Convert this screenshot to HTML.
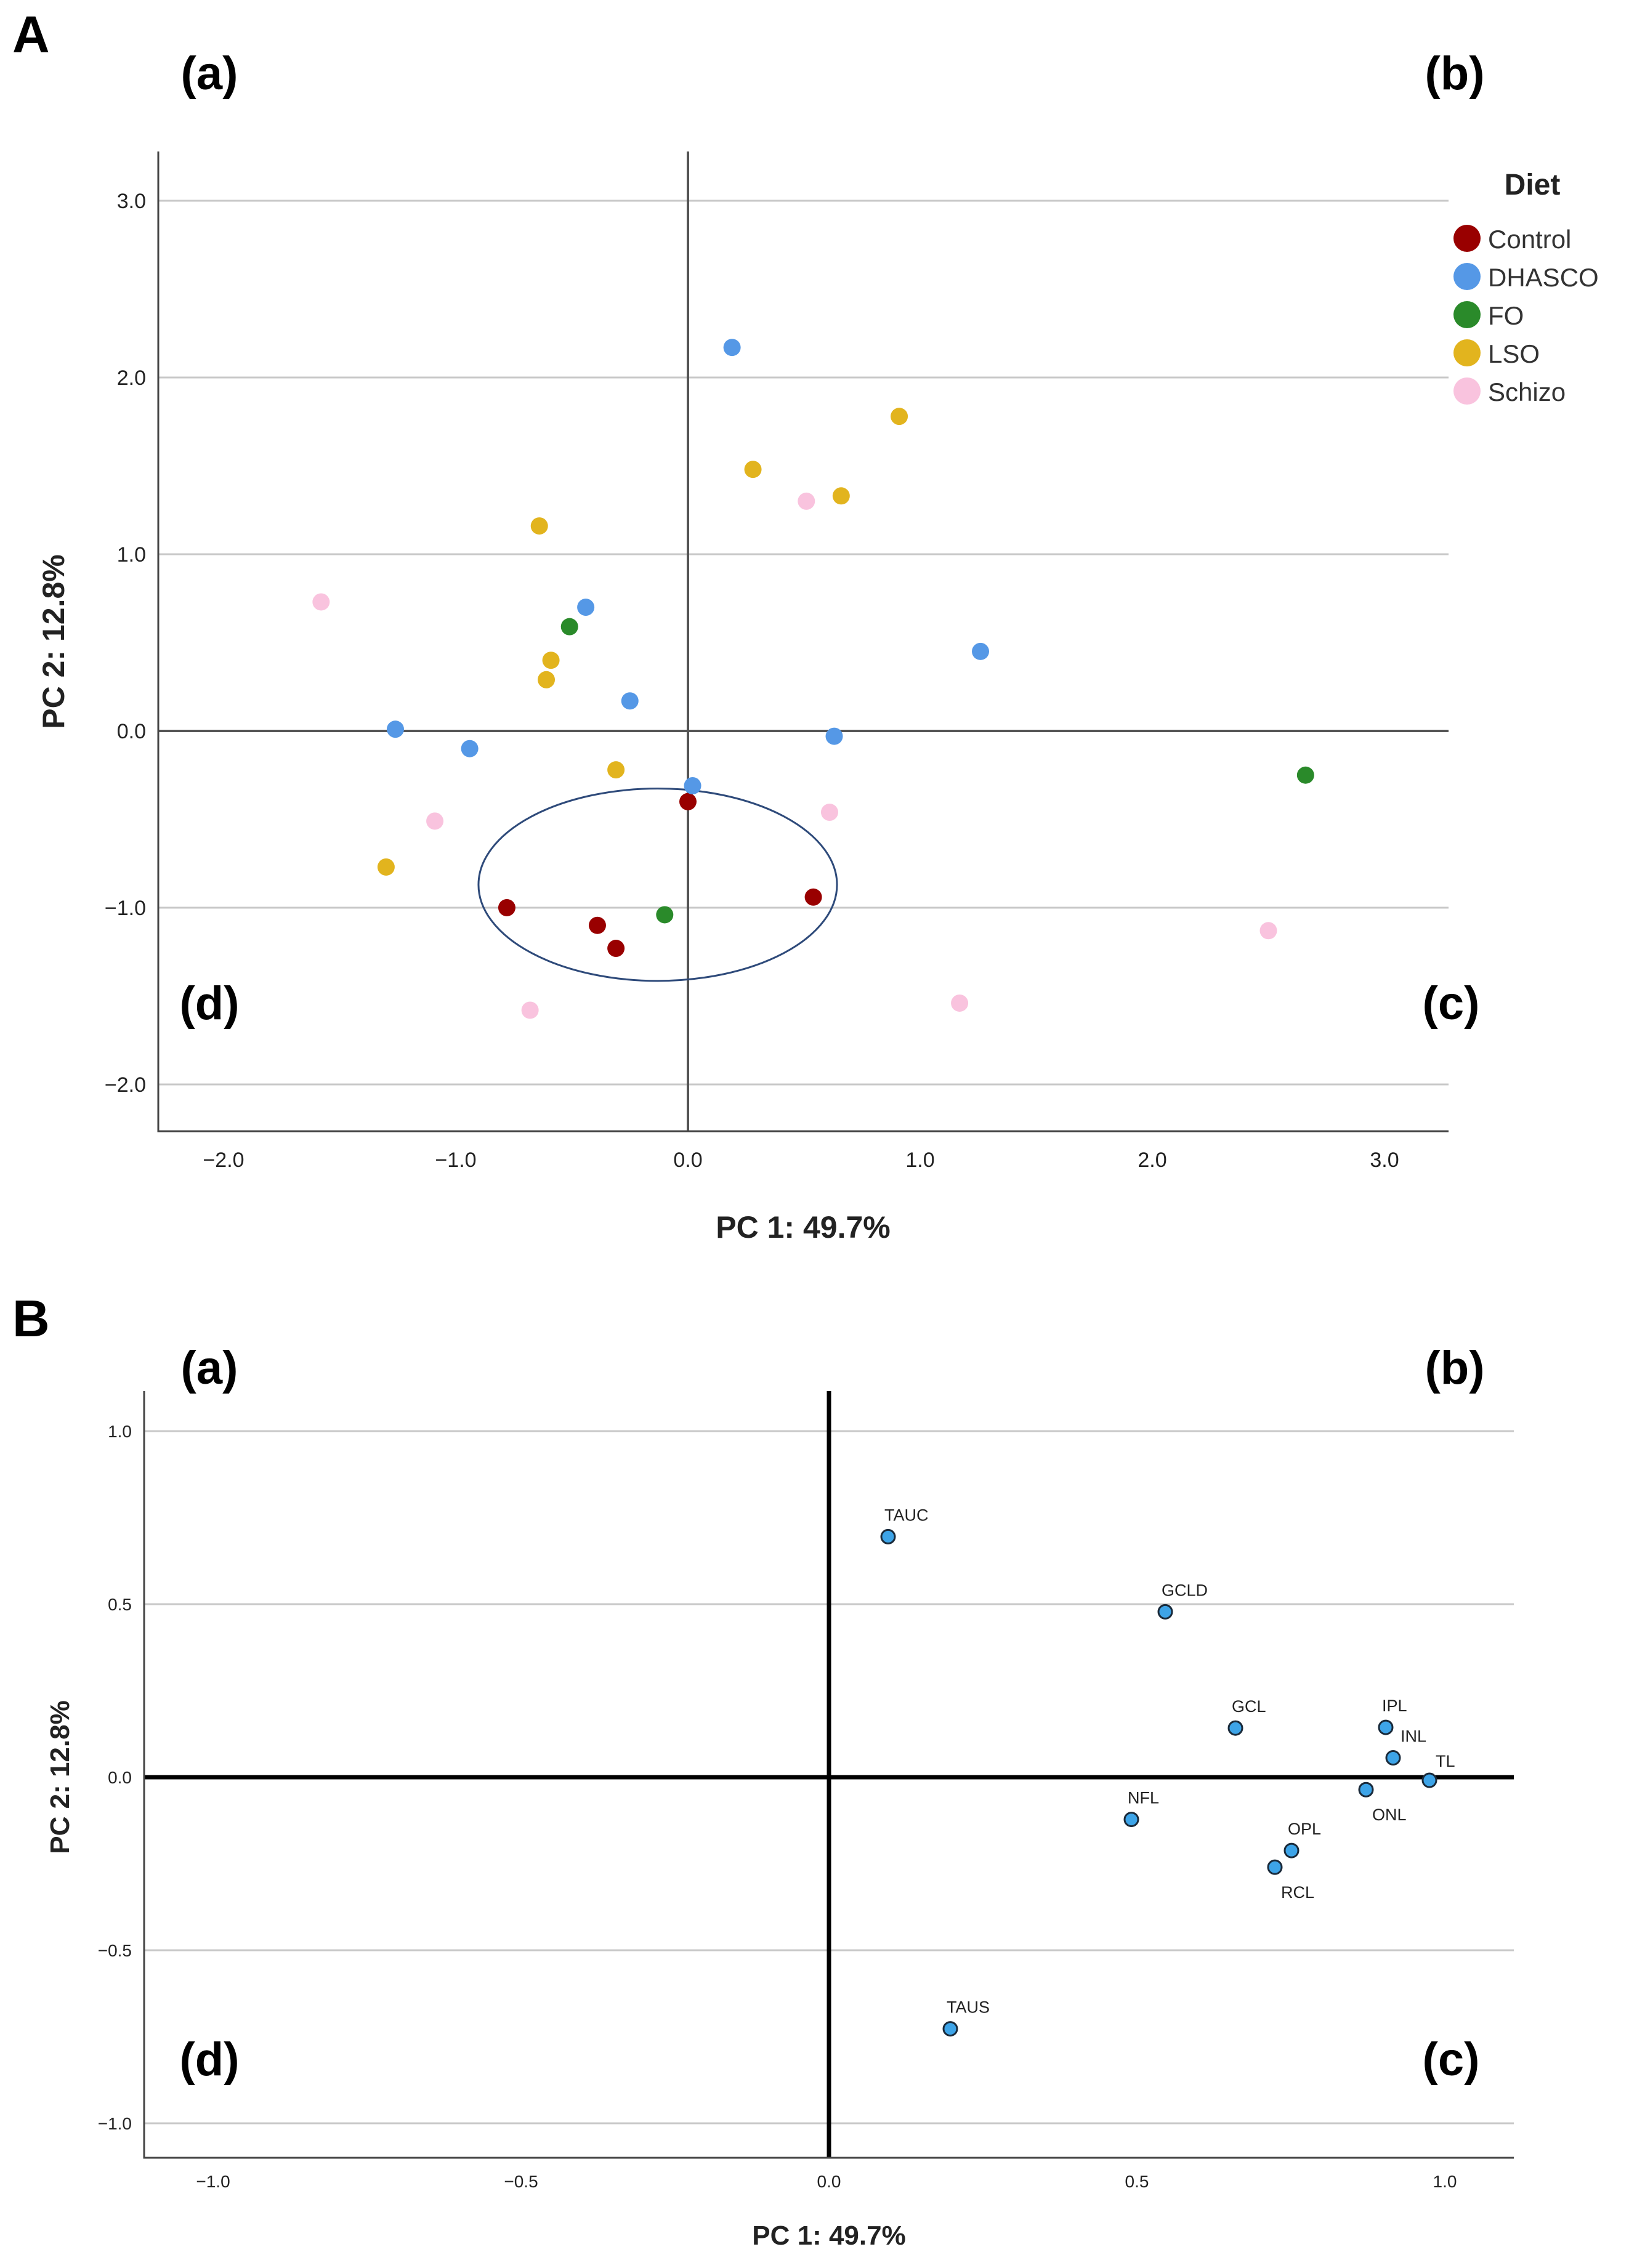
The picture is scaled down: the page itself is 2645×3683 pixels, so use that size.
<!DOCTYPE html>
<html><head><meta charset="utf-8"><style>
html,body{margin:0;padding:0;background:#fff}
svg{display:block}
text{font-family:"Liberation Sans",sans-serif}
</style></head>
<body>
<svg id="fig" width="2645" height="3683" viewBox="0 0 2645 3683" xmlns="http://www.w3.org/2000/svg"></svg>
<script>
// ---------- Panel A data ----------
const dietGroups = ['Control','DHASCO','FO','LSO','Schizo'];
const controlX = [0.00,-0.78,-0.39,-0.31,0.54];
const controlY = [-0.40,-1.00,-1.10,-1.23,-0.94];
const dhascoX = [0.19,-0.44,1.26,-0.25,-1.26,-0.94,0.63,0.02];
const dhascoY = [2.17,0.70,0.45,0.17,0.01,-0.10,-0.03,-0.31];
const foX = [-0.51,-0.10,2.66];
const foY = [0.59,-1.04,-0.25];
const lsoX = [0.91,0.28,0.66,-0.64,-0.59,-0.61,-0.31,-1.30];
const lsoY = [1.78,1.48,1.33,1.16,0.40,0.29,-0.22,-0.77];
const schizoX = [-1.58,0.51,-1.09,0.61,2.50,-0.68,1.17];
const schizoY = [0.73,1.30,-0.51,-0.46,-1.13,-1.58,-1.54];
const aXTicks = [-2,-1,0,1,2,3];
const aYTicks = [3,2,1,0,-1,-2];
const ellipseCenter = [-0.13,-0.87];
const ellipseRadii = [0.772,0.544];
// ---------- Panel B data ----------
const loadingNames = ['TAUC','GCLD','GCL','IPL','INL','TL','ONL','NFL','OPL','RCL','TAUS'];
const loadingX = [0.096,0.546,0.66,0.904,0.916,0.975,0.872,0.491,0.751,0.724,0.197];
const loadingY = [0.695,0.478,0.142,0.144,0.056,-0.009,-0.036,-0.122,-0.212,-0.260,-0.727];
const bXTicks = [-1,-0.5,0,0.5,1];
const bYTicks = [1,0.5,0,-0.5,-1];

const NS='http://www.w3.org/2000/svg';
const svg=document.getElementById('fig');
function mk(tag,attrs,parent,txt){const e=document.createElementNS(NS,tag);for(const k in attrs)e.setAttribute(k,attrs[k]);if(txt!==undefined)e.textContent=txt;(parent||svg).appendChild(e);return e;}
function fmt1(v){return (v<0?'\u22121.0'.replace('1.0',Math.abs(v).toFixed(1)):v.toFixed(1));}

// ---------- Panel A ----------
const A={left:257,right:2352,top:246,bottom:1837,x0:1117,sx:377,y0:1187,sy:287};
const ax=v=>A.x0+v*A.sx, ay=v=>A.y0-v*A.sy;
const gA=mk('g',{});


aYTicks.forEach(t=>{
  if(t!==0){const l=mk('line',{x1:A.left,x2:A.right,y1:ay(t),y2:ay(t),stroke:'#c8c8c8','stroke-width':3},gA);
  
  }
  const tx=mk('text',{x:A.left-20,y:ay(t)+12,'font-size':34,'text-anchor':'end',fill:'#222'},gA,fmt1(t));
  
  
});
aXTicks.forEach(t=>{
  const tx=mk('text',{x:ax(t),y:1895,'font-size':34,'text-anchor':'middle',fill:'#222'},gA,fmt1(t));
  
  
});
let zl=mk('line',{x1:A.left,x2:A.right,y1:ay(0),y2:ay(0),stroke:'#555','stroke-width':4},gA);


zl=mk('line',{x1:ax(0),x2:ax(0),y1:A.top,y2:A.bottom,stroke:'#555','stroke-width':4},gA);


let axl=mk('path',{d:`M${A.left} ${A.top}V${A.bottom}H${A.right}`,fill:'none',stroke:'#444','stroke-width':3},gA);


const groupColors=['#990000','#5598E6','#2A8A2A','#E2B41E','#F9C3DE'];
const groupX=[controlX,dhascoX,foX,lsoX,schizoX], groupY=[controlY,dhascoY,foY,lsoY,schizoY];
const ell=mk('ellipse',{cx:ax(ellipseCenter[0]),cy:ay(ellipseCenter[1]),rx:ellipseRadii[0]*A.sx,ry:ellipseRadii[1]*A.sy,fill:'none',stroke:'#2E4A7A','stroke-width':3},gA);


groupX.forEach((xs,g)=>{xs.forEach((x,i)=>{
  const c=mk('circle',{cx:ax(x),cy:ay(groupY[g][i]),r:14,fill:groupColors[g]},gA);
  
  
});});
// legend
const lg=mk('g',{});


let lt=mk('text',{x:2488,y:316,'font-size':48,'font-weight':'bold','text-anchor':'middle',fill:'#222'},lg,'Diet');


dietGroups.forEach((n,i)=>{
  const y=393+i*62;
  const e=mk('g',{},lg);
  
  
  mk('circle',{cx:2382,cy:y-6,r:22,fill:groupColors[i]},e);
  mk('text',{x:2416,y:y+10,'font-size':42,fill:'#333'},e,n);
});
// titles
let t=mk('text',{x:1304,y:2010,'font-size':50,'font-weight':'bold','text-anchor':'middle',fill:'#222'},gA,'PC 1: 49.7%');


t=mk('text',{x:0,y:0,'font-size':50,'font-weight':'bold','text-anchor':'middle',fill:'#222',transform:'translate(104,1042) rotate(-90)'},gA,'PC 2: 12.8%');



// ---------- Panel B ----------
const B={left:234,right:2458,top:2259,bottom:3504,x0:1346,sx:1000,y0:2886,sy:562};
const bx=v=>B.x0+v*B.sx, by=v=>B.y0-v*B.sy;
const gB=mk('g',{});


bYTicks.forEach(tk=>{
  if(tk!==0){const l=mk('line',{x1:B.left,x2:B.right,y1:by(tk),y2:by(tk),stroke:'#c8c8c8','stroke-width':3},gB);
  
  }
  const tx=mk('text',{x:B.left-20,y:by(tk)+10,'font-size':28,'text-anchor':'end',fill:'#222'},gB,fmt1(tk));
  
  
});
bXTicks.forEach(tk=>{
  const tx=mk('text',{x:bx(tk),y:3552,'font-size':28,'text-anchor':'middle',fill:'#222'},gB,fmt1(tk));
  
  
});
zl=mk('line',{x1:B.left,x2:B.right,y1:by(0),y2:by(0),stroke:'#000','stroke-width':7},gB);


zl=mk('line',{x1:bx(0),x2:bx(0),y1:B.top,y2:B.bottom,stroke:'#000','stroke-width':7},gB);


axl=mk('path',{d:`M${B.left} ${B.top}V${B.bottom}H${B.right}`,fill:'none',stroke:'#444','stroke-width':3},gB);


const below={ONL:1,RCL:1};
loadingNames.forEach((n,i)=>{
  const cx=bx(loadingX[i]), cy=by(loadingY[i]);
  const c=mk('circle',{cx:cx,cy:cy,r:11,fill:'#3DA4E8',stroke:'#1a2a3a','stroke-width':3},gB);
  
  
  let lx=cx-6, ly=cy-26, anchor='start';
  if(below[n]){lx=cx+10; ly=cy+50;}
  if(n==='TL'){lx=cx+10; ly=cy-22;}
  if(n==='INL'){lx=cx+12; ly=cy-26;}
  const l=mk('text',{x:lx,y:ly,'font-size':27,'text-anchor':anchor,fill:'#222'},gB,n);
  
  
});
t=mk('text',{x:1346,y:3645,'font-size':44,'font-weight':'bold','text-anchor':'middle',fill:'#222'},gB,'PC 1: 49.7%');


t=mk('text',{x:0,y:0,'font-size':44,'font-weight':'bold','text-anchor':'middle',fill:'#222',transform:'translate(112,2886) rotate(-90)'},gB,'PC 2: 12.8%');



// ---------- Panel letters & quadrant labels ----------
const labels=[['A',20,85,84,'panel-label-a','start'],['B',20,2170,84,'panel-label-b','start'],
 ['(a)',340,145,76,'quadrant-a-top','middle'],['(b)',2362,145,76,'quadrant-b-top','middle'],
 ['(d)',340,1655,76,'quadrant-d-top','middle'],['(c)',2356,1655,76,'quadrant-c-top','middle'],
 ['(a)',340,2247,76,'quadrant-a-bottom','middle'],['(b)',2362,2247,76,'quadrant-b-bottom','middle'],
 ['(d)',340,3370,76,'quadrant-d-bottom','middle'],['(c)',2356,3370,76,'quadrant-c-bottom','middle']];
labels.forEach(l=>{
  const e=mk('text',{x:l[1],y:l[2],'font-size':l[3],'font-weight':'bold','text-anchor':l[5],fill:'#000'},svg,l[0]);
  
  
});
</script>
</body></html>
